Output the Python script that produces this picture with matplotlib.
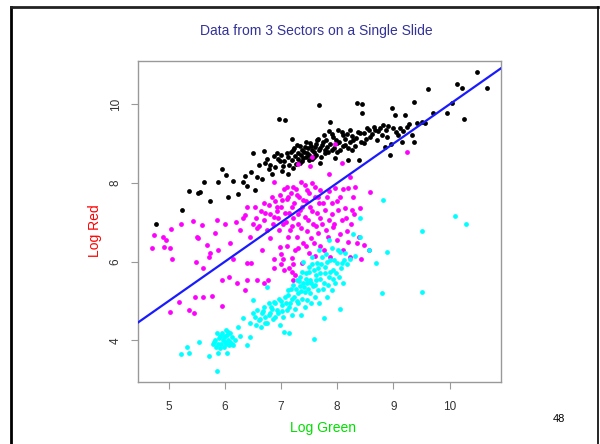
import matplotlib.pyplot as plt
from matplotlib.lines import Line2D
import numpy as np

plt.rcParams['font.family'] = ['Liberation Sans', 'DejaVu Sans']

# log intensities (green, red) for each sector
black_pts = [
    (4.78, 6.96), (5.23, 7.31), (5.37, 7.79), (5.53, 7.74), (5.56, 7.76), (5.73, 7.55),
    (5.63, 8.03), (5.87, 8.03), (5.95, 8.36), (6.02, 8.20), (6.06, 7.64), (6.14, 8.05),
    (6.23, 7.71), (6.33, 8.03), (6.36, 8.19), (6.39, 7.92), (6.46, 8.29), (6.51, 8.75),
    (6.54, 7.82), (6.58, 8.16), (6.66, 8.09), (6.69, 8.82), (6.72, 8.52), (6.81, 8.46),
    (6.84, 8.23), (6.87, 8.69), (6.93, 8.77), (6.97, 9.62), (7.07, 9.60), (6.99, 8.55),
    (7.04, 8.42), (7.10, 8.75), (7.13, 8.23), (7.19, 9.11), (7.21, 8.84), (7.22, 8.37),
    (7.25, 8.69), (7.28, 8.97), (7.31, 8.75), (7.34, 8.50), (7.37, 8.84), (7.40, 8.63),
    (7.43, 8.92), (7.46, 8.75), (7.49, 8.58), (7.52, 9.01), (7.55, 8.84), (7.58, 8.67),
    (7.61, 8.92), (7.64, 9.09), (7.67, 8.84), (7.68, 9.98), (7.69, 8.50), (7.73, 8.97),
    (7.76, 9.22), (7.79, 8.75), (7.82, 8.92), (7.85, 9.31), (7.88, 9.56), (7.90, 8.84),
    (7.93, 9.18), (7.96, 8.63), (7.99, 9.01), (8.02, 9.35), (8.05, 8.84), (8.11, 9.22),
    (8.14, 8.97), (8.20, 8.58), (8.23, 9.35), (8.26, 8.84), (8.29, 9.09), (8.35, 10.03),
    (8.44, 10.00), (8.38, 8.58), (8.41, 9.26), (8.44, 9.77), (8.47, 9.01), (8.53, 9.39),
    (8.59, 9.18), (8.65, 9.43), (8.70, 9.09), (8.73, 9.31), (8.82, 9.48), (8.85, 8.92),
    (8.88, 9.18), (8.94, 8.71), (8.97, 9.90), (9.00, 9.39), (9.03, 9.73), (9.09, 9.22),
    (9.15, 9.05), (9.21, 9.73), (9.24, 9.43), (9.33, 9.22), (9.36, 10.05), (9.36, 9.05),
    (9.42, 9.52), (9.51, 9.56), (9.56, 9.52), (9.61, 10.39), (9.71, 9.77), (9.95, 9.79),
    (10.04, 10.03), (10.14, 10.52), (10.22, 10.41), (10.26, 9.62), (10.48, 10.81), (10.67, 10.41),
    (6.60, 8.45), (6.75, 8.60), (6.78, 8.35), (6.90, 8.40), (6.95, 8.62), (7.00, 8.70),
    (7.02, 8.30), (7.06, 8.55), (7.12, 8.65), (7.15, 8.45), (7.18, 8.78), (7.20, 8.58),
    (7.24, 8.90), (7.27, 8.48), (7.30, 8.62), (7.33, 8.95), (7.35, 8.70), (7.38, 8.55),
    (7.41, 8.80), (7.44, 9.05), (7.45, 8.65), (7.48, 8.88), (7.50, 8.72), (7.53, 8.95),
    (7.56, 8.60), (7.59, 8.80), (7.62, 9.00), (7.63, 8.70), (7.66, 9.12), (7.70, 8.90),
    (7.72, 8.65), (7.75, 9.05), (7.78, 8.85), (7.80, 9.10), (7.84, 8.80), (7.87, 9.00),
    (7.91, 9.25), (7.94, 8.90), (7.97, 9.10), (8.00, 8.78), (8.04, 9.05), (8.08, 9.30),
    (8.10, 8.95), (8.13, 9.12), (8.17, 9.25), (8.19, 8.90), (8.22, 9.05), (8.27, 9.20),
    (8.31, 8.95), (8.33, 9.15), (8.37, 9.30), (8.43, 9.05), (8.48, 9.28), (8.51, 9.12),
    (8.56, 9.35), (8.62, 9.25), (8.68, 9.35), (8.76, 9.40), (8.79, 9.22), (8.86, 9.35),
    (8.91, 9.45), (8.95, 9.00), (9.05, 9.30), (9.12, 9.40), (9.18, 9.32), (9.28, 9.50),
]

magenta_pts = [
    (4.74, 6.68), (4.70, 6.34), (4.90, 6.64), (4.92, 6.38), (5.02, 6.34), (5.06, 6.06),
    (5.04, 6.82), (5.22, 6.97), (4.96, 6.55), (5.44, 7.04), (5.50, 6.64), (5.59, 6.93),
    (5.53, 6.59), (5.49, 5.99), (5.61, 5.83), (5.68, 6.42), (5.74, 6.21), (5.86, 7.06),
    (5.83, 6.72), (5.87, 6.30), (5.71, 6.13), (5.95, 5.53), (5.18, 4.98), (5.02, 4.73),
    (5.37, 4.77), (5.47, 5.11), (5.45, 4.69), (5.61, 5.09), (5.78, 5.13), (5.95, 4.87),
    (6.08, 5.62), (6.21, 5.45), (6.00, 6.97), (6.09, 6.47), (6.15, 6.08), (6.20, 7.02),
    (6.27, 6.81), (6.32, 7.10), (6.36, 7.19), (6.39, 7.40), (6.36, 5.28), (6.39, 5.96),
    (6.40, 5.53), (6.45, 6.64), (6.46, 5.96), (6.51, 6.97), (6.54, 7.40), (6.57, 6.85),
    (6.58, 5.53), (6.66, 6.30), (6.69, 7.48), (6.72, 7.23), (6.69, 5.45), (6.75, 6.81),
    (6.76, 5.53), (6.81, 6.59), (6.84, 7.65), (6.87, 7.14), (6.87, 6.08), (6.88, 5.83),
    (6.93, 7.40), (6.96, 6.81), (6.99, 6.38), (7.01, 7.57), (7.03, 6.97), (7.04, 6.08),
    (7.05, 5.79), (7.07, 7.23), (7.10, 7.91), (7.12, 6.64), (7.13, 7.65), (7.16, 6.81),
    (7.19, 7.40), (7.19, 5.74), (7.21, 5.53), (7.22, 7.10), (7.22, 7.91), (7.25, 6.30),
    (7.28, 7.69), (7.28, 6.64), (7.31, 6.97), (7.34, 7.31), (7.35, 8.03), (7.37, 5.96),
    (7.39, 7.57), (7.40, 6.47), (7.43, 7.14), (7.46, 7.82), (7.46, 6.77), (7.49, 6.21),
    (7.52, 7.40), (7.55, 7.99), (7.57, 6.97), (7.58, 6.47), (7.61, 7.65), (7.64, 7.23),
    (7.65, 6.72), (7.68, 7.48), (7.69, 7.82), (7.73, 6.97), (7.76, 6.30), (7.79, 7.31),
    (7.82, 7.65), (7.83, 6.64), (7.86, 7.06), (7.88, 6.13), (7.90, 7.48), (7.93, 6.89),
    (7.96, 7.86), (7.99, 6.55), (8.02, 7.31), (8.05, 7.65), (8.08, 7.06), (8.11, 6.30),
    (8.14, 7.36), (8.17, 6.77), (8.20, 7.86), (8.22, 8.16), (8.23, 6.13), (8.26, 7.31),
    (8.29, 7.65), (8.32, 7.91), (8.35, 6.47), (8.38, 6.64), (8.41, 7.36), (8.42, 6.06),
    (8.47, 6.42), (8.58, 7.78), (8.56, 6.30),
    (7.55, 8.65), (7.96, 8.99), (7.31, 8.48), (7.52, 8.43), (8.08, 8.52), (9.25, 8.80),
    (7.86, 8.23), (6.87, 8.03),
    (6.55, 7.10), (6.60, 6.90), (6.65, 7.30), (6.70, 7.05), (6.78, 7.45), (6.80, 7.20),
    (6.85, 6.95), (6.90, 7.55), (6.92, 7.30), (6.95, 7.10), (6.98, 7.70), (7.00, 7.40),
    (7.05, 7.85), (7.08, 7.00), (7.10, 7.60), (7.15, 7.25), (7.17, 7.75), (7.20, 6.90),
    (7.23, 7.50), (7.26, 7.85), (7.30, 7.20), (7.32, 7.65), (7.36, 6.85), (7.38, 7.40),
    (7.42, 7.95), (7.45, 7.55), (7.48, 7.05), (7.50, 7.75), (7.53, 6.60), (7.55, 7.30),
    (7.60, 7.90), (7.62, 6.90), (7.66, 7.65), (7.70, 7.10), (7.75, 7.50), (7.80, 6.80),
    (7.85, 7.80), (7.90, 7.20), (7.95, 6.95), (8.00, 7.55), (8.05, 6.70), (8.10, 7.85),
    (8.15, 7.10), (8.20, 6.50), (8.25, 6.95), (8.30, 7.20), (7.00, 6.20), (7.10, 6.40),
    (7.20, 6.10), (7.30, 6.35), (7.45, 6.40), (7.60, 6.15), (7.70, 6.40), (7.00, 5.95),
    (7.15, 5.85), (7.25, 5.65), (7.22, 5.95),
]

cyan_pts = [
    (5.86, 3.22), (5.22, 3.65), (5.33, 3.84), (5.37, 3.69), (5.54, 3.96), (5.71, 3.60),
    (5.87, 3.67), (6.04, 3.67), (5.79, 3.92), (5.83, 4.01), (5.89, 4.05), (5.93, 3.92),
    (5.98, 4.09), (6.01, 3.97), (6.04, 4.13), (6.06, 4.01), (6.09, 4.18), (6.12, 3.92),
    (5.85, 3.84), (5.92, 3.80), (5.99, 3.84), (6.08, 3.88), (5.95, 4.18), (6.02, 4.26),
    (6.12, 4.08), (5.80, 3.97), (5.88, 3.92), (5.91, 4.10), (5.96, 4.00), (6.00, 4.12),
    (6.02, 3.90), (6.10, 3.95), (6.15, 3.88), (6.05, 4.22), (5.86, 4.18), (6.18, 4.00),
    (6.24, 4.35), (6.27, 4.11), (6.33, 4.56), (6.40, 3.88), (6.44, 4.08), (6.51, 5.03),
    (6.54, 4.60), (6.57, 4.77), (6.60, 4.51), (6.64, 4.35), (6.66, 4.69), (6.69, 4.86),
    (6.72, 4.60), (6.75, 5.35), (6.75, 4.43), (6.78, 4.94), (6.81, 4.69), (6.84, 4.81),
    (6.87, 4.98), (6.90, 4.60), (6.93, 4.77), (6.96, 5.06), (6.99, 4.39), (7.01, 4.89),
    (7.04, 4.60), (7.05, 4.22), (7.07, 5.11), (7.10, 4.77), (7.13, 5.28), (7.15, 4.18),
    (7.16, 4.94), (7.19, 4.64), (7.22, 5.41), (7.24, 5.11), (7.25, 4.81), (7.28, 5.53),
    (7.30, 5.20), (7.31, 4.94), (7.33, 5.37), (7.34, 5.62), (7.35, 4.64), (7.37, 5.06),
    (7.39, 6.00), (7.40, 5.45), (7.42, 4.85), (7.43, 5.24), (7.45, 5.70), (7.46, 5.03),
    (7.47, 5.45), (7.49, 5.87), (7.51, 5.20), (7.52, 5.53), (7.53, 4.94), (7.55, 6.13),
    (7.57, 5.37), (7.58, 5.79), (7.59, 4.04), (7.61, 5.11), (7.63, 5.53), (7.64, 5.96),
    (7.65, 5.28), (7.67, 6.30), (7.68, 4.94), (7.69, 5.70), (7.73, 6.13), (7.76, 5.45),
    (7.76, 4.56), (7.79, 5.87), (7.82, 5.11), (7.85, 5.62), (7.86, 6.55), (7.88, 6.04),
    (7.90, 5.28), (7.93, 5.79), (7.96, 5.45), (7.99, 5.96), (8.02, 6.30), (8.04, 5.62),
    (8.05, 4.81), (8.08, 5.96), (8.11, 5.45), (8.14, 6.21), (8.23, 6.08), (8.28, 6.70),
    (8.32, 6.15), (8.41, 7.10), (8.41, 6.64), (8.57, 6.30), (8.69, 5.96), (8.79, 5.21),
    (8.82, 7.58), (8.88, 6.25), (9.51, 6.79), (9.51, 5.24), (10.10, 7.17), (10.29, 6.96),
    (6.45, 4.45), (6.50, 4.70), (6.55, 4.40), (6.62, 4.55), (6.68, 4.75), (6.72, 4.45),
    (6.78, 4.65), (6.82, 4.85), (6.86, 4.55), (6.90, 4.95), (6.95, 4.70), (7.00, 5.00),
    (7.02, 4.75), (7.08, 4.95), (7.12, 5.15), (7.14, 4.85), (7.18, 5.30), (7.20, 5.05),
    (7.26, 5.30), (7.28, 5.00), (7.32, 5.50), (7.36, 5.25), (7.38, 5.75), (7.41, 5.35),
    (7.44, 5.55), (7.48, 5.30), (7.50, 5.75), (7.54, 5.45), (7.56, 5.95), (7.60, 5.40),
    (7.62, 5.65), (7.66, 5.85), (7.70, 5.55), (7.72, 5.95), (7.74, 5.30), (7.78, 5.70),
    (7.81, 6.00), (7.84, 5.40), (7.87, 5.75), (7.92, 5.55), (7.95, 6.05), (7.98, 5.70),
    (8.06, 5.85), (8.12, 6.05), (8.18, 5.95), (8.05, 6.25), (7.90, 6.35), (7.80, 6.20),
]

x_ticks = [5, 6, 7, 8, 9, 10]
y_ticks = [4, 6, 8, 10]

fig = plt.figure(figsize=(6, 4.44), dpi=100)
ax = fig.add_axes([0.2305, 0.1403, 0.604, 0.7223])

for pts, col in [(black_pts, 'black'), (magenta_pts, '#ff00ff'), (cyan_pts, '#00ffff')]:
    a = np.array(pts)
    ax.scatter(a[:, 0], a[:, 1], s=12, c=col, linewidths=0, zorder=2)

# identity line
ax.axline((0, 0), slope=1, color='#1a1aff', lw=1.6, zorder=3)

ax.set_xlim(4.46, 10.91)
ax.set_ylim(2.95, 11.10)
ax.set_xticks(x_ticks)
ax.set_yticks(y_ticks)
for s in ax.spines.values():
    s.set_color('#999999')
    s.set_linewidth(1)
ax.tick_params(colors='#999999', labelcolor='#333333', labelsize=8.5, length=5)
ax.tick_params(axis='x', pad=9)
ax.tick_params(axis='y', pad=7, labelrotation=90)
for lab in ax.get_yticklabels():
    lab.set_va('center')

fig.text(0.527, 0.930, 'Data from 3 Sectors on a Single Slide', color='#333399',
         fontsize=10, ha='center', va='center')
fig.text(0.158, 0.480, 'Log Red', color='red', fontsize=10, rotation=90,
         ha='center', va='center')
fig.text(0.538, 0.036, 'Log Green', color='#00e000', fontsize=10,
         ha='center', va='center')
fig.text(0.932, 0.056, '48', color='black', fontsize=8, ha='center', va='center')

# slide frame
fig.add_artist(Line2D([0.019, 0.019], [0, 0.985], color='black', lw=2))
fig.add_artist(Line2D([0.019, 0.997], [0.985, 0.985], color='#222222', lw=2))
fig.add_artist(Line2D([0.997, 0.997], [0, 0.985], color='black', lw=1.2))

fig.savefig('out.png', dpi=100)
